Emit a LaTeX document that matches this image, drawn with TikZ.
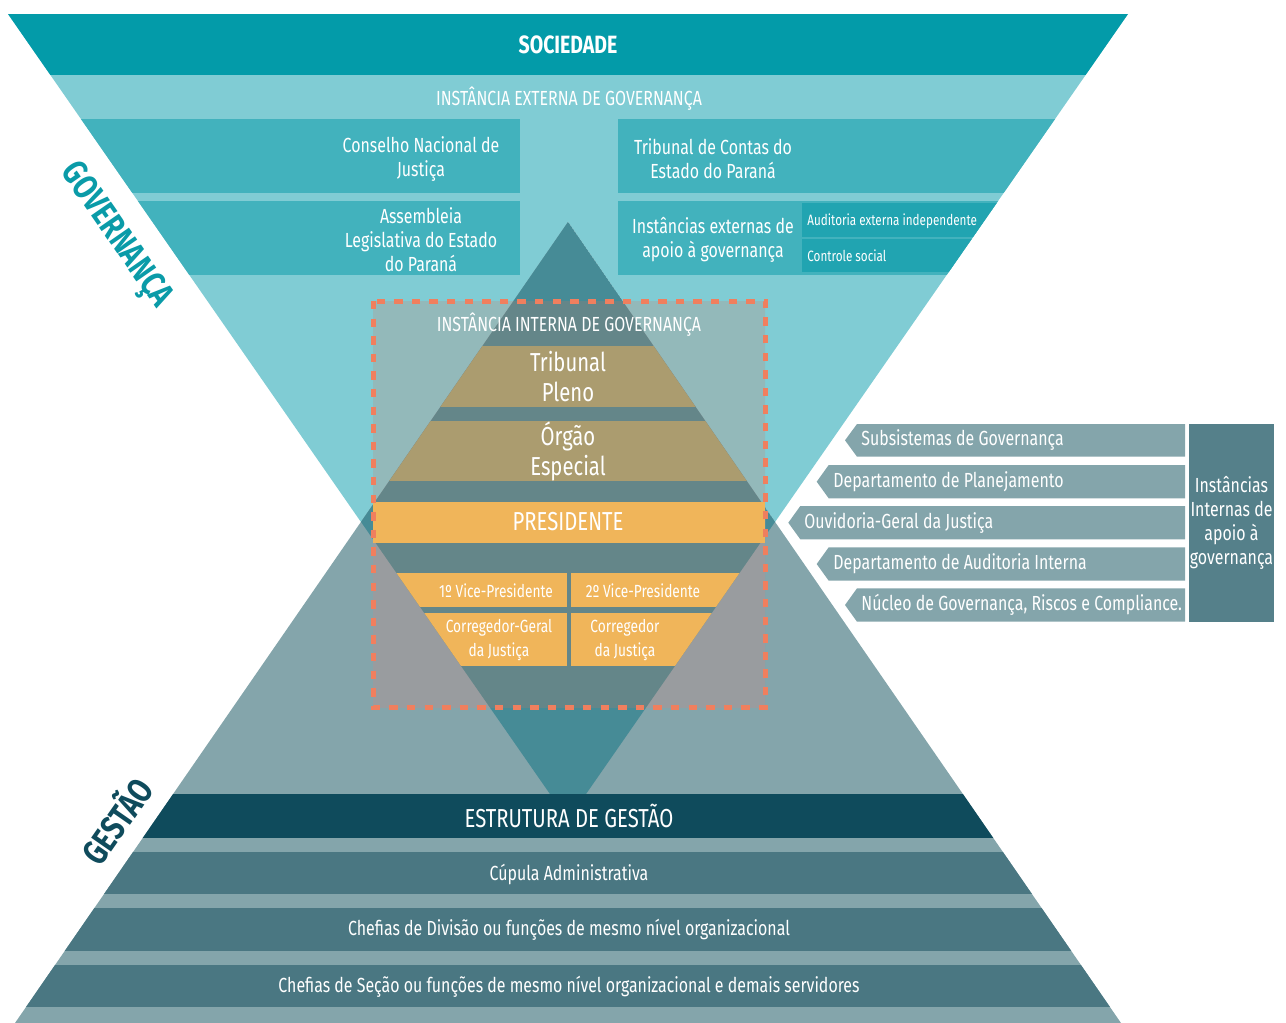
\documentclass[tikz,border=0pt]{standalone}
\usepackage{fontspec}
\setmainfont{Fira Sans}[FakeStretch=0.78]
\usepackage{tikz}
\definecolor{socteal}{HTML}{039BA9}
\definecolor{extlight}{HTML}{80CCD4}
\definecolor{extbox}{HTML}{42B2BD}
\definecolor{extsub}{HTML}{21A4B1}
\definecolor{gestlight}{HTML}{84A5AB}
\definecolor{overlap}{HTML}{468B96}
\definecolor{frameup}{HTML}{93B9BA}
\definecolor{framelow}{HTML}{999C9F}
\definecolor{framedia}{HTML}{648689}
\definecolor{dashcol}{HTML}{F07F5E}
\definecolor{tanband}{HTML}{AB9C6F}
\definecolor{goldbox}{HTML}{F0B55A}
\definecolor{gestdark}{HTML}{0F4B5C}
\definecolor{gestband}{HTML}{4A7782}
\definecolor{listside}{HTML}{55808A}
\definecolor{govtext}{HTML}{0A9BA8}

\begin{document}
\begin{tikzpicture}[x=0.5pt,y=-0.5pt,
    wtxt/.style={text=white, inner sep=0pt, align=center},
    fsml/.style={font=\fontsize{7.5}{11}\selectfont},
    fvice/.style={font=\fontsize{8.8}{11.8}\selectfont},
    fmid/.style={font=\fontsize{10.2}{12}\selectfont},
    fbig/.style={font=\fontsize{13}{15}\selectfont},
    side/.style={font=\bfseries\fontsize{17.5}{19}\selectfont, inner sep=0pt}]
  \useasboundingbox (0,0) rectangle (1286,1023);
  % corners of the two triangles and of their overlap
  \coordinate (UL) at (8,14);
  \coordinate (UR) at (1128,14);
  \coordinate (UA) at (568,820);
  \coordinate (LA) at (568,222);
  \coordinate (LL) at (15,1023);
  \coordinate (LR) at (1121,1023);
  \coordinate (XL) at (361,521.9);
  \coordinate (XR) at (775,521.9);

  % governanca triangle
  \begin{scope}
    \clip (UL) -- (UR) -- (UA) -- cycle;
    \fill[extlight] (0,0) rectangle (1286,1023);
    \fill[socteal] (0,14) rectangle (1286,75);
    \fill[extbox] (0,119) rectangle (520,193);
    \fill[extbox] (618,119) rectangle (1286,193);
    \fill[extbox] (0,201) rectangle (520,275);
    \fill[extbox] (618,201) rectangle (1286,275);
    \fill[extsub] (802,203) rectangle (1286,237);
    \fill[extsub] (802,239) rectangle (1286,272);
  \end{scope}

  % gestao triangle and overlap
  \begin{scope}
    \clip (LA) -- (LL) -- (LR) -- cycle;
    \fill[gestlight] (0,0) rectangle (1286,1023);
    \fill[overlap] (LA) -- (XL) -- (UA) -- (XR) -- cycle;
  \end{scope}

  % inside the dashed frame
  \begin{scope}
    \clip (373,301) rectangle (765,707);
    \fill[frameup] (UL) -- (UR) -- (UA) -- cycle;
    \fill[framelow] (LA) -- (LL) -- (LR) -- cycle;
    \fill[framedia] (LA) -- (XL) -- (UA) -- (XR) -- cycle;
  \end{scope}
  \begin{scope}
    \clip (LA) -- (XL) -- (UA) -- (XR) -- cycle;
    \fill[tanband] (300,345.7) rectangle (840,406.7);
    \fill[tanband] (300,421) rectangle (840,481);
    \fill[goldbox] (300,573.3) rectangle (566.5,606.7);
    \fill[goldbox] (571,573.3) rectangle (840,606.7);
    \fill[goldbox] (300,613.3) rectangle (566.5,666);
    \fill[goldbox] (571,613.3) rectangle (840,666);
  \end{scope}
  \fill[goldbox] (373,502) rectangle (765,542.7);

  % gestao bands
  \begin{scope}
    \clip (LA) -- (LL) -- (LR) -- cycle;
    \fill[gestdark] (0,794) rectangle (1286,838);
    \fill[gestband] (0,851.7) rectangle (1286,894);
    \fill[gestband] (0,908) rectangle (1286,950.7);
    \fill[gestband] (0,965) rectangle (1286,1007);
  \end{scope}

  \draw[dashcol, line width=2.5pt, dash pattern=on 4.2pt off 4.6pt] (373,301) rectangle (765,707);

  % internal support list
  \fill[gestlight] (845,440.3) -- (857,424) -- (1185,424) -- (1185,456.7) -- (857,456.7) -- cycle;
  \fill[gestlight] (816.7,481.7) -- (828.7,465) -- (1185,465) -- (1185,498.3) -- (828.7,498.3) -- cycle;
  \fill[gestlight] (788.3,522.7) -- (800.3,506) -- (1185,506) -- (1185,539.3) -- (800.3,539.3) -- cycle;
  \fill[gestlight] (816.7,564) -- (828.7,547.3) -- (1185,547.3) -- (1185,580.7) -- (828.7,580.7) -- cycle;
  \fill[gestlight] (845,605) -- (857,588.3) -- (1185,588.3) -- (1185,621.7) -- (857,621.7) -- cycle;
  \fill[listside] (1189,424) rectangle (1274,621.7);

  % texts
  \node (soc) at (568,45) [wtxt, font=\bfseries\fontsize{12.5}{14}\selectfont] {SOCIEDADE};
  \node (extinst) at (569,99) [wtxt, fmid] {INSTÂNCIA EXTERNA DE GOVERNANÇA};
  \node (cnj) at (421,159) [wtxt, fmid] {Conselho Nacional de\\Justiça};
  \node (alep) at (421,240) [wtxt, fmid] {Assembleia\\Legislativa do Estado\\do Paraná};
  \node (tce) at (713,159) [wtxt, fmid] {Tribunal de Contas do\\Estado do Paraná};
  \node (extapoio) at (713,240) [wtxt, fmid] {Instâncias externas de\\apoio à governança};
  \node (audext) at (807,221) [wtxt, fsml, anchor=west] {Auditoria externa independente};
  \node (ctrlsoc) at (807,256) [wtxt, fsml, anchor=west] {Controle social};
  \node (intinst) at (569,325) [wtxt, fmid] {INSTÂNCIA INTERNA DE GOVERNANÇA};
  \node (pleno) at (568,377) [wtxt, fbig] {Tribunal\\Pleno};
  \node (orgao) at (568,451) [wtxt, fbig] {Órgão\\Especial};
  \node (pres) at (568,522) [wtxt, fbig] {PRESIDENTE};
  \node (vice1) at (496,591) [wtxt, fvice] {1º Vice-Presidente};
  \node (vice2) at (643,591) [wtxt, fvice] {2º Vice-Presidente};
  \node (corgeral) at (499,640) [wtxt, fvice] {Corregedor-Geral\\da Justiça};
  \node (corjus) at (625,640) [wtxt, fvice] {Corregedor\\da Justiça};
  \node (estrut) at (569,816) [wtxt, fbig] {ESTRUTURA DE GESTÃO};
  \node (cupula) at (569,874) [wtxt, fmid] {Cúpula Administrativa};
  \node (chefdiv) at (569,930) [wtxt, fmid] {Chefias de Divisão ou funções de mesmo nível organizacional};
  \node (chefsec) at (569,987) [wtxt, fmid] {Chefias de Seção ou funções de mesmo nível organizacional e demais servidores};
  \node (subsis) at (861,440.3) [wtxt, fmid, anchor=west] {Subsistemas de Governança};
  \node (planej) at (833,481.7) [wtxt, fmid, anchor=west] {Departamento de Planejamento};
  \node (ouvid) at (804,522.7) [wtxt, fmid, anchor=west] {Ouvidoria-Geral da Justiça};
  \node (audint) at (833,564) [wtxt, fmid, anchor=west] {Departamento de Auditoria Interna};
  \node (nucleo) at (861,605) [wtxt, fmid, anchor=west] {Núcleo de Governança, Riscos e Compliance.};
  \node (intapoio) at (1231.5,523) [wtxt, fmid] {Instâncias\\Internas de\\apoio à\\governança};
  \node (gov) at (115,236) [side, rotate=-55.2, text=govtext] {GOVERNANÇA};
  \node (gest) at (115,820) [side, rotate=55.2, text=gestdark] {GESTÃO};
\end{tikzpicture}
\end{document}
